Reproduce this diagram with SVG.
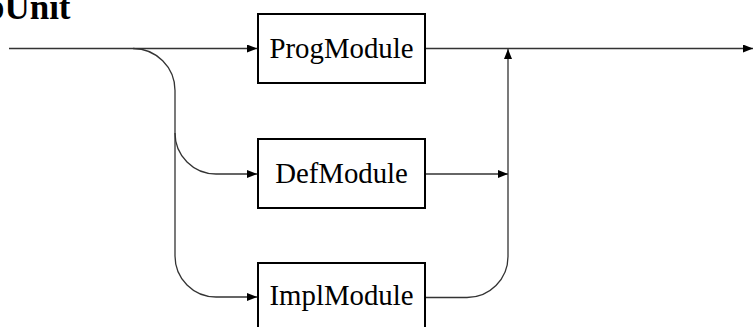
<svg xmlns="http://www.w3.org/2000/svg" width="753" height="327" viewBox="0 0 753 327">
<style>
.box{fill:#fff;stroke:#000;stroke-width:2}
.lbl{font-family:"Liberation Serif","Times New Roman",serif;font-size:28.8px;fill:#000;text-anchor:middle}
.title{font-family:"Liberation Serif","Times New Roman",serif;font-size:35px;font-weight:bold;fill:#000}
.ln{fill:none;stroke:#333;stroke-width:1.3}
</style>
<defs>
<marker id="ah" viewBox="0 0 10 8" refX="10" refY="4" markerWidth="10" markerHeight="8" markerUnits="userSpaceOnUse" orient="auto">
<path d="M0,0 L10,4 L0,8 Z" fill="#000"/>
</marker>
</defs>
<text class="title" x="-87" y="19">CompUnit</text>
<g id="connectors">
<path class="ln" d="M9,48.5 H257" marker-end="url(#ah)"/>
<path class="ln" d="M133,48.5 A42,42 0 0 1 175,90.5 V133 A41,41 0 0 0 216,174 H257" marker-end="url(#ah)"/>
<path class="ln" d="M175,133 V256 A41,41 0 0 0 216,297 H257" marker-end="url(#ah)"/>
<path class="ln" d="M426,48.5 H753" marker-end="url(#ah)"/>
<path class="ln" d="M426,174 H508" marker-end="url(#ah)"/>
<path class="ln" d="M426,297.5 H467 A41,41 0 0 0 508,256.5 V49" marker-end="url(#ah)"/>
</g>
<g id="ProgModule">
<rect class="box" x="258" y="14" width="167" height="69"/>
<text class="lbl" x="341.5" y="57.5">ProgModule</text>
</g>
<g id="DefModule">
<rect class="box" x="258" y="139" width="167" height="69"/>
<text class="lbl" x="341.5" y="183">DefModule</text>
</g>
<g id="ImplModule">
<rect class="box" x="258" y="263" width="167" height="69"/>
<text class="lbl" x="341.5" y="304.5">ImplModule</text>
</g>
</svg>
